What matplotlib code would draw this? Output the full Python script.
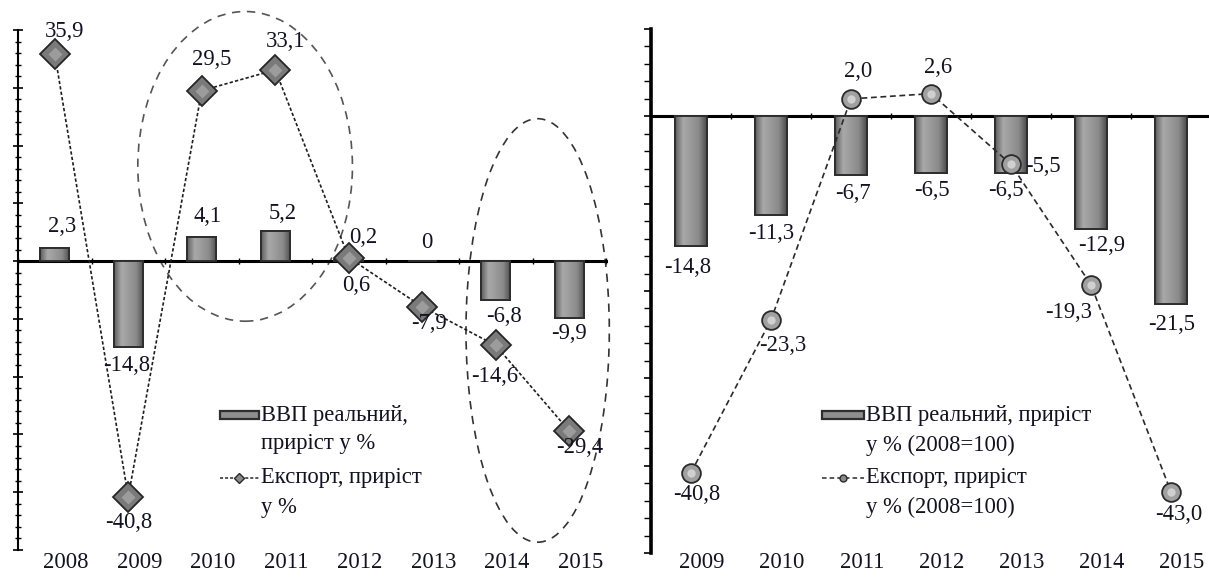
import numpy as np
import matplotlib
matplotlib.use("Agg")
import matplotlib.pyplot as plt
from matplotlib.patches import Ellipse, Rectangle
from matplotlib.lines import Line2D
from matplotlib.colors import LinearSegmentedColormap
from matplotlib.ticker import MultipleLocator, NullFormatter

plt.rcParams['font.family'] = ['Liberation Serif', 'DejaVu Serif']

# left chart: annual growth
years_l = ['2008', '2009', '2010', '2011', '2012', '2013', '2014', '2015']
gdp_l = [2.3, -14.8, 4.1, 5.2, 0.2, 0, -6.8, -9.9]
exp_l = [35.9, -40.8, 29.5, 33.1, 0.6, -7.9, -14.6, -29.4]
gdp_l_txt = ['2,3', '-14,8', '4,1', '5,2', '0,2', '0', '-6,8', '-9,9']
exp_l_txt = ['35,9', '-40,8', '29,5', '33,1', '0,6', '-7,9', '-14,6', '-29,4']

# right chart: growth vs 2008
years_r = ['2009', '2010', '2011', '2012', '2013', '2014', '2015']
gdp_r = [-14.8, -11.3, -6.7, -6.5, -6.5, -12.9, -21.5]
exp_r = [-40.8, -23.3, 2.0, 2.6, -5.5, -19.3, -43.0]
gdp_r_txt = ['-14,8', '-11,3', '-6,7', '-6,5', '-6,5', '-12,9', '-21,5']
exp_r_txt = ['-40,8', '-23,3', '2,0', '2,6', '-5,5', '-19,3', '-43,0']

# label offsets in pixels (layout only)
gdp_l_off = [(7, 21), (-2, -19), (6, 21), (8, 18), (14, 22), (5, 19), (8, -16), (0, -15)]
exp_l_off = [(10, 22), (1, -26), (10, 31), (10, 28), (7, -28), (7, -17), (-1, -31), (10, -17)]
gdp_r_off = [(-3, -22), (0, -18), (2, -19), (1, -17), (-5, -17), (11, -17), (1, -20)]
exp_r_off = [(6, -22), (12, -26), (7, 27), (7, 26), (32, -2), (-22, -28), (8, -23)]

W, H = 1209, 577
TXT = '#121220'
FS = 16.3

bar_cmap = LinearSegmentedColormap.from_list(
    'bevel', ['#5e5e5e', '#a9a9a9', '#9a9a9a', '#8a8a8a', '#4c4c4c'])


def gradient_bars(ax, x, vals, width):
    bars = ax.bar(x, vals, width=width, color='#8f8f8f', edgecolor='#2e2e2e',
                  linewidth=1.4, zorder=3)
    grad = np.linspace(0, 1, 64).reshape(1, -1)
    for b in bars:
        x0, y0 = b.get_x(), b.get_y()
        x1, y1 = x0 + b.get_width(), y0 + b.get_height()
        if abs(y1 - y0) < 1e-9:
            continue
        im = ax.imshow(grad, cmap=bar_cmap, extent=[x0, x1, min(y0, y1), max(y0, y1)],
                       aspect='auto', zorder=3.5, interpolation='bicubic')
        im.set_clip_path(b)
        edge = Rectangle((x0, min(y0, y1)), b.get_width(), abs(y1 - y0), fill=False,
                         edgecolor='#2e2e2e', linewidth=1.4, zorder=3.6)
        ax.add_patch(edge)
    return bars


def style_axis(ax, ylim, spine_w, tdir):
    ax.set_ylim(*ylim)
    for s in ['top', 'right']:
        ax.spines[s].set_visible(False)
    ax.spines['left'].set_linewidth(spine_w)
    ax.spines['bottom'].set_position(('data', 0))
    ax.spines['bottom'].set_linewidth(2.2)
    ax.yaxis.set_major_locator(MultipleLocator(10))
    ax.yaxis.set_minor_locator(MultipleLocator(2))
    ax.yaxis.set_major_formatter(NullFormatter())
    ax.tick_params(axis='y', which='major', direction=tdir, length=7, width=1.2)
    ax.tick_params(axis='y', which='minor', direction=tdir, length=5, width=1.0)
    ax.patch.set_alpha(0)


def year_labels(ax, x, labels):
    for xi, lab in zip(x, labels):
        ax.annotate(lab, xy=(xi, H - 562), xycoords=('data', 'figure pixels'),
                    xytext=(11, 0), textcoords='offset pixels',
                    ha='center', va='center', fontsize=FS, color=TXT)


def value_labels(ax, x, vals, texts, offs):
    for xi, v, t, o in zip(x, vals, texts, offs):
        ax.annotate(t, xy=(xi, v), xytext=o, textcoords='offset pixels',
                    ha='center', va='center', fontsize=FS, color=TXT, zorder=6)


fig = plt.figure(figsize=(W / 100, H / 100), dpi=100)

# ---------------- left panel ----------------
ax1 = fig.add_axes([18 / W, 1 - 550 / H, 588 / W, 520 / H])
x1 = np.arange(len(years_l))
gradient_bars(ax1, x1, gdp_l, 0.4)
ax1.plot(x1, exp_l, color='#1e1e1e', linewidth=1.2, dashes=(2, 1.3), zorder=4)
ax1.plot(x1, exp_l, linestyle='none', marker='D', markersize=15,
         markerfacecolor='#7a7a7a', markeredgecolor='#262626', markeredgewidth=1.3, zorder=5)
ax1.plot(x1, exp_l, linestyle='none', marker='D', markersize=7,
         markerfacecolor='#9c9c9c', markeredgecolor='none', zorder=5.1)
ax1.set_xlim(-0.5, len(years_l) - 0.5)
style_axis(ax1, (-50, 40), 1.5, 'inout')
ax1.set_xticks(np.arange(len(years_l) + 1) - 0.5)
ax1.set_xticklabels([])
ax1.tick_params(axis='x', direction='inout', length=5, width=1.0)
year_labels(ax1, x1, years_l)
value_labels(ax1, x1, gdp_l, gdp_l_txt, gdp_l_off)
value_labels(ax1, x1, exp_l, exp_l_txt, exp_l_off)

ax1.add_patch(Ellipse((2.59, 16.4), 2.92, 53.6, fill=False, edgecolor='#555555',
                      linewidth=1.2, linestyle=(0, (5, 4)), zorder=2, clip_on=False))
ax1.add_patch(Ellipse((6.57, -12.0), 1.95, 73.3, fill=False, edgecolor='#333333',
                      linewidth=1.2, linestyle=(0, (5, 4)), zorder=2, clip_on=False))

# ---------------- right panel ----------------
ax2 = fig.add_axes([651 / W, 1 - 553 / H, 560 / W, 524 / H])
x2 = np.arange(len(years_r))
gradient_bars(ax2, x2, gdp_r, 0.4)
ax2.plot(x2, exp_r, color='#2a2a2a', linewidth=1.2, dashes=(3.5, 2.2), zorder=4)
ax2.plot(x2, exp_r, linestyle='none', marker='o', markersize=13.5,
         markerfacecolor='#a0a0a0', markeredgecolor='#2a2a2a', markeredgewidth=1.3, zorder=5)
ax2.plot(x2, exp_r, linestyle='none', marker='o', markersize=6,
         markerfacecolor='#d0d0d0', markeredgecolor='none', zorder=5.1)
ax2.set_xlim(-0.5, len(years_r) - 0.5)
style_axis(ax2, (-50, 10), 2.6, 'out')
ax2.set_xticks(np.arange(len(years_r) + 1) - 0.5)
ax2.set_xticklabels([])
ax2.tick_params(axis='x', direction='inout', length=4, width=1.0)
ax2.tick_params(axis='y', which='both', length=5)
year_labels(ax2, x2, years_r)
value_labels(ax2, x2, gdp_r, gdp_r_txt, gdp_r_off)
value_labels(ax2, x2, exp_r, exp_r_txt, exp_r_off)


# ---------------- legends (drawn by hand, figure pixels) ----------------
def px(x, y):
    return x / W, 1 - y / H


def legend_block(hx0, hx1, rows, marker, ms, dash):
    # bar handle
    bx, by = px(hx0, rows[0] + 4)
    fig.add_artist(Rectangle((bx, by), (hx1 - hx0) / W, 8 / H, transform=fig.transFigure,
                             facecolor='#8e8e8e', edgecolor='#2e2e2e', linewidth=1.6))
    # line handle
    lx0, ly = px(hx0, rows[2])
    lx1, _ = px(hx1, rows[2])
    fig.add_artist(Line2D([lx0, lx1], [ly, ly], transform=fig.transFigure,
                          color='#2a2a2a', linewidth=1.1, dashes=dash))
    fig.add_artist(Line2D([(lx0 + lx1) / 2], [ly], transform=fig.transFigure,
                          marker=marker, markersize=ms, markerfacecolor='#8a8a8a',
                          markeredgecolor='#2a2a2a', linestyle='none'))


legend_block(220, 259, [415, 443, 478, 507], 'D', 5, (2, 1.3))
legend_block(822, 864, [415, 445, 478, 507], 'o', 5, (3, 2))

leg_left = ['ВВП реальний,', 'приріст у %', 'Експорт, приріст', 'у %']
leg_right = ['ВВП реальний, приріст', 'у % (2008=100)', 'Експорт, приріст', 'у % (2008=100)']
for t, y in zip(leg_left, [415, 443, 478, 507]):
    fig.text(*px(261, y), t, ha='left', va='center', fontsize=FS, color=TXT)
for t, y in zip(leg_right, [415, 445, 478, 507]):
    fig.text(*px(866, y), t, ha='left', va='center', fontsize=FS, color=TXT)

fig.savefig('out.png', dpi=100, facecolor='white')
